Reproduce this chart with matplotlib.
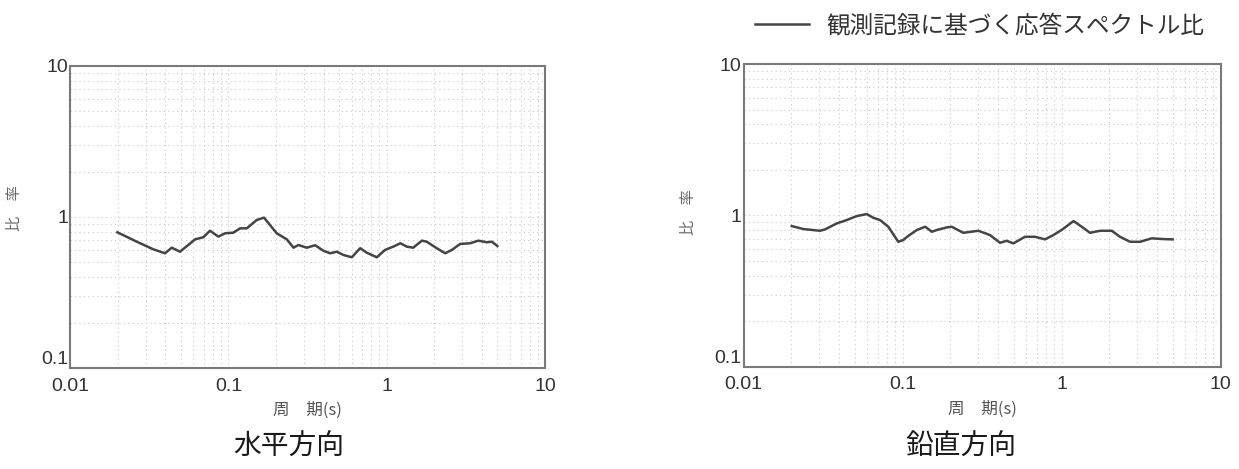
import matplotlib
matplotlib.use('Agg')
import matplotlib.pyplot as plt
from matplotlib.ticker import FixedLocator, FixedFormatter, LogLocator, NullFormatter

plt.rcParams['font.family'] = ['Noto Sans CJK JP', 'DejaVu Sans']

# 水平方向 (horizontal)
h_period = [0.0199, 0.0264, 0.0336, 0.0398, 0.0439, 0.0495, 0.0617, 0.0695, 0.0766, 0.0865,
            0.0953, 0.1076, 0.1186, 0.1307, 0.151, 0.168, 0.202, 0.234, 0.258, 0.277,
            0.313, 0.353, 0.398, 0.439, 0.484, 0.533, 0.602, 0.680, 0.749, 0.866,
            0.977, 1.10, 1.22, 1.34, 1.47, 1.67, 1.79, 2.07, 2.34, 2.58,
            2.91, 3.37, 3.79, 4.29, 4.61, 5.0]
h_ratio = [0.792, 0.686, 0.611, 0.575, 0.626, 0.589, 0.711, 0.734, 0.811, 0.741,
           0.780, 0.787, 0.841, 0.841, 0.955, 0.990, 0.780, 0.711, 0.626, 0.652,
           0.626, 0.650, 0.598, 0.575, 0.589, 0.560, 0.541, 0.621, 0.580, 0.541,
           0.605, 0.636, 0.670, 0.636, 0.626, 0.697, 0.686, 0.621, 0.575, 0.605,
           0.663, 0.670, 0.697, 0.680, 0.686, 0.642]

# 鉛直方向 (vertical)
v_period = [0.0201, 0.0238, 0.0303, 0.0326, 0.0386, 0.0446, 0.0515, 0.0596, 0.0655, 0.0722,
            0.0814, 0.094, 0.101, 0.109, 0.123, 0.139, 0.153, 0.164, 0.190, 0.204,
            0.241, 0.300, 0.355, 0.410, 0.452, 0.498, 0.589, 0.681, 0.787, 0.888,
            1.00, 1.19, 1.34, 1.51, 1.75, 2.07, 2.33, 2.70, 3.12, 3.69,
            4.37, 5.00]
v_ratio = [0.850, 0.812, 0.791, 0.808, 0.885, 0.931, 0.989, 1.02, 0.964, 0.931,
           0.841, 0.669, 0.687, 0.733, 0.800, 0.841, 0.779, 0.800, 0.833, 0.841,
           0.767, 0.791, 0.741, 0.659, 0.679, 0.653, 0.722, 0.722, 0.694, 0.741,
           0.800, 0.917, 0.841, 0.767, 0.791, 0.791, 0.722, 0.669, 0.669, 0.705,
           0.697, 0.694]

xticks = [0.01, 0.1, 1, 10]
xtick_labels = ['0.01', '0.1', '1', '10']
yticks = [0.1, 1, 10]
ytick_labels = ['0.1', '1', '10']

legend_label = '観測記録に基づく応答スペクトル比'
titles = ['水平方向', '鉛直方向']

fig = plt.figure(figsize=(12.39, 4.69), dpi=100)
ax1 = fig.add_axes([0.0565, 0.2154, 0.3834, 0.6439])
ax2 = fig.add_axes([0.6001, 0.2181, 0.3850, 0.6454])

line_color = '#454545'
tick_family = ['Liberation Sans', 'DejaVu Sans']

for ax, px, ry in [(ax1, h_period, h_ratio), (ax2, v_period, v_ratio)]:
    ln, = ax.plot(px, ry, color=line_color, lw=1.8)
    ax.set_xscale('log')
    ax.set_yscale('log')
    ax.set_xlim(0.01, 10)
    ax.set_ylim(0.1, 10)
    ax.xaxis.set_major_locator(FixedLocator(xticks))
    ax.xaxis.set_major_formatter(FixedFormatter(xtick_labels))
    ax.yaxis.set_major_locator(FixedLocator(yticks))
    ax.yaxis.set_major_formatter(FixedFormatter(ytick_labels))
    ax.xaxis.set_minor_locator(LogLocator(base=10, subs=range(2, 10)))
    ax.yaxis.set_minor_locator(LogLocator(base=10, subs=range(2, 10)))
    ax.xaxis.set_minor_formatter(NullFormatter())
    ax.yaxis.set_minor_formatter(NullFormatter())
    ax.tick_params(which='both', length=0)
    ax.tick_params(axis='x', pad=7, labelcolor='#333333')
    ax.tick_params(axis='y', pad=1.5, labelcolor='#333333')
    for lab in ax.get_xticklabels() + ax.get_yticklabels():
        lab.set_fontfamily(tick_family)
        lab.set_fontsize(14)
    # "0.1" sits a little high so it clears "0.01" below it
    ax.get_yticklabels()[0].set_verticalalignment('bottom')
    ax.grid(which='both', color='#c8c8c8', linestyle=(0, (1, 3)), lw=0.8)
    for s in ax.spines.values():
        s.set_color('#7a7a7a')
        s.set_linewidth(1.5)
    ax.set_xlabel('周　期(s)', fontsize=12, color='#555555', labelpad=5)

fig.text(15 / 1239, 1 - 208 / 469, '比　率', rotation=90, fontsize=11,
         color='#666666', ha='center', va='center')
fig.text(688 / 1239, 1 - 212 / 469, '比　率', rotation=90, fontsize=11,
         color='#666666', ha='center', va='center')

fig.text(289 / 1239, 1 - 447 / 469, titles[0], fontsize=20, color='#1a1a1a',
         ha='center', va='center')
fig.text(961 / 1239, 1 - 447 / 469, titles[1], fontsize=20, color='#1a1a1a',
         ha='center', va='center')

leg = fig.legend([ln], [legend_label], loc='center left',
                 bbox_to_anchor=(755 / 1239, 1 - 26 / 469),
                 bbox_transform=fig.transFigure, frameon=False, fontsize=17,
                 handlelength=2.3, handletextpad=0.7, borderpad=0, borderaxespad=0)
for t in leg.get_texts():
    t.set_color('#333333')

fig.savefig('out.png', dpi=100)
